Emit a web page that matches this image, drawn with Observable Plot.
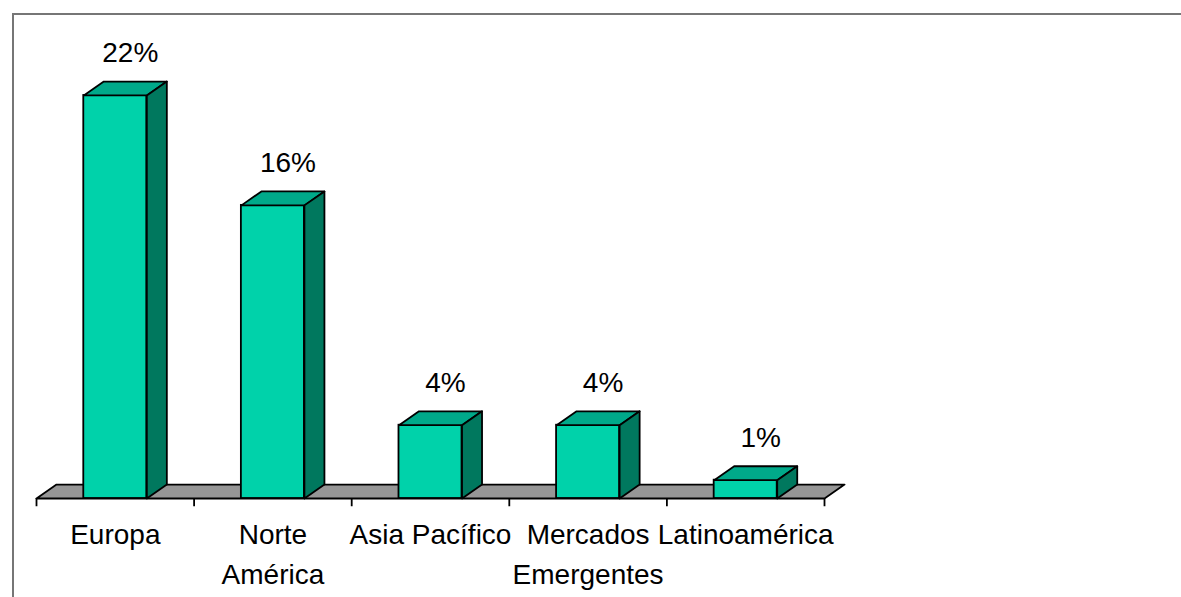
<!DOCTYPE html>
<html>
<head>
<meta charset="utf-8">
<script src="https://cdn.jsdelivr.net/npm/d3@7"></script>
<script src="https://cdn.jsdelivr.net/npm/@observablehq/plot@0.6"></script>
<style>
  html, body { margin: 0; padding: 0; background: #fff; overflow: hidden; }
  #chart { position: absolute; left: 0; top: 0; }
  #frame { position: absolute; left: 12px; top: 13px; width: 1200px; height: 620px;
           border-top: 2px solid #767676; border-left: 2px solid #767676; pointer-events: none; }
</style>
</head>
<body>
<div id="chart"></div>
<div id="frame"></div>
<script>
// Data
const categories = ["Europa", "Norte América", "Asia Pacífico", "Mercados Emergentes", "Latinoamérica"];
const tickLabels = ["Europa", "Norte\nAmérica", "Asia Pacífico", "Mercados\nEmergentes", "Latinoamérica"];
const values = [22, 16, 4, 4, 1];

// 3D depth (in scale units)
const DX = 0.127, DY = 0.76, HALF = 0.2;

const bars = categories.map((c, i) => ({ c, i, v: values[i], label: tickLabels[i] }));

const tops = [], sides = [];
bars.forEach(b => {
  const x0 = b.i + 0.5 - HALF, x1 = b.i + 0.5 + HALF;
  tops.push({ id: b.i, x: x0, y: b.v }, { id: b.i, x: x1, y: b.v },
            { id: b.i, x: x1 + DX, y: b.v + DY }, { id: b.i, x: x0 + DX, y: b.v + DY });
  sides.push({ id: b.i, x: x1, y: 0 }, { id: b.i, x: x1, y: b.v },
             { id: b.i, x: x1 + DX, y: b.v + DY }, { id: b.i, x: x1 + DX, y: DY });
});
const n = categories.length;
const floor = [{ x: 0, y: 0 }, { x: n, y: 0 }, { x: n + DX, y: DY }, { x: DX, y: DY }];

const chart = Plot.plot({
  width: 1181,
  height: 597,
  marginLeft: 36,
  marginRight: 357,
  marginTop: 40,
  marginBottom: 99,
  style: { fontFamily: "Liberation Sans, Arial, sans-serif", fontSize: "28px", background: "transparent", overflow: "visible" },
  x: { type: "linear", domain: [0, n], axis: null },
  y: { domain: [0, 25], axis: null },
  marks: [
    Plot.line(floor, { x: "x", y: "y", curve: "linear-closed", fill: "#969696", stroke: "black", strokeWidth: 1.8 }),
    Plot.ruleX(d3.range(n + 1), { x: d => d, y1: 0, y2: -0.45, stroke: "black", strokeWidth: 1.8 }),
    Plot.rectY(bars, { x1: d => d.i + 0.5 - HALF, x2: d => d.i + 0.5 + HALF, y: "v", fill: "#00D2AA", stroke: "black", strokeWidth: 1.8 }),
    Plot.line(tops, { x: "x", y: "y", z: "id", curve: "linear-closed", fill: "#00A98A", stroke: "black", strokeWidth: 1.8, strokeLinejoin: "round" }),
    Plot.line(sides, { x: "x", y: "y", z: "id", curve: "linear-closed", fill: "#00785E", stroke: "black", strokeWidth: 1.8, strokeLinejoin: "round" }),
    Plot.text(bars, { x: d => d.i + 0.5, y: "v", text: d => d.v + "%", dx: 15, dy: -33, lineAnchor: "bottom", fontSize: 28, fill: "black", letterSpacing: "-1px" }),
    Plot.text(bars, { x: d => d.i + 0.5, y: 0, text: "label", dy: 17, lineAnchor: "top", lineHeight: 1.43, fontSize: 28, fill: "black" })
  ]
});
document.getElementById("chart").appendChild(chart);
</script>
</body>
</html>
